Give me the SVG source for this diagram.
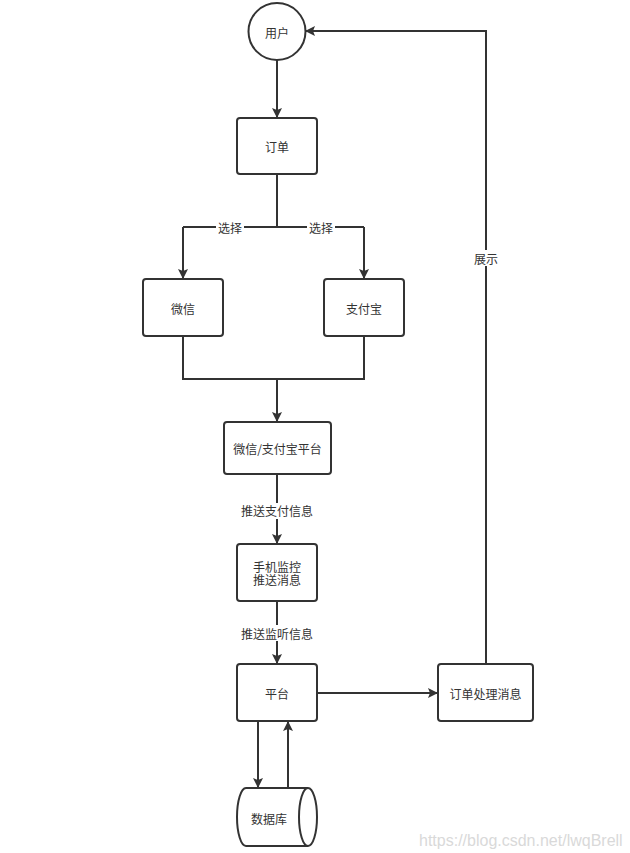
<svg xmlns="http://www.w3.org/2000/svg" width="630" height="853" viewBox="0 0 630 853">
<style>
.n{fill:#fff;stroke:#333;stroke-width:2}
.c{fill:none;stroke:#333;stroke-width:2}
text{font-family:"Noto Sans CJK SC","Liberation Sans",sans-serif;font-size:12px;fill:#333;text-anchor:middle;dominant-baseline:central}
.lb{fill:#fff;stroke:none}
.wm{font-family:"Liberation Sans",sans-serif;font-size:16px;fill:#d9d9d9;text-anchor:start}
</style>
<defs>
<marker id="a" viewBox="0 0 10 10" refX="9" refY="5" markerWidth="10" markerHeight="10" markerUnits="userSpaceOnUse" orient="auto">
<path d="M0,0 L10,5 L0,10 L2,5 Z" fill="#333"/>
</marker>
</defs>
<rect width="630" height="853" fill="#fff"/>
<g id="connectors">
<path class="c" d="M277,60 V117" marker-end="url(#a)"/>
<path class="c" d="M277,174 V227 M183,227 H364"/>
<path class="c" d="M183,227 V278" marker-end="url(#a)"/>
<path class="c" d="M364,227 V278" marker-end="url(#a)"/>
<path class="c" d="M183,336 V379 H364 V336"/>
<path class="c" d="M277,379 V421" marker-end="url(#a)"/>
<path class="c" d="M277,474 V543" marker-end="url(#a)"/>
<path class="c" d="M277,601 V663" marker-end="url(#a)"/>
<path class="c" d="M317,693 H437" marker-end="url(#a)"/>
<path class="c" d="M486,664 V31 H306" marker-end="url(#a)"/>
<path class="c" d="M258,721 V787" marker-end="url(#a)"/>
<path class="c" d="M288,788 V722" marker-end="url(#a)"/>
<rect class="lb" x="216" y="220" width="28" height="14"/>
<text x="230" y="227">选择</text>
<rect class="lb" x="307" y="220" width="28" height="14"/>
<text x="321" y="227">选择</text>
<rect class="lb" x="240" y="503" width="74" height="16"/>
<text x="277" y="510">推送支付信息</text>
<rect class="lb" x="240" y="625" width="74" height="16"/>
<text x="277" y="633">推送监听信息</text>
<rect class="lb" x="472" y="250" width="28" height="16"/>
<text x="486" y="258">展示</text>
</g>
<g id="user"><circle class="n" cx="277" cy="31.5" r="28.5"/><text x="277" y="32">用户</text></g>
<g id="order"><rect class="n" x="237" y="118" width="80" height="56" rx="3"/><text x="277" y="146">订单</text></g>
<g id="wechat"><rect class="n" x="143" y="279" width="80" height="57" rx="3"/><text x="183" y="308">微信</text></g>
<g id="alipay"><rect class="n" x="324" y="279" width="80" height="57" rx="3"/><text x="364" y="308">支付宝</text></g>
<g id="payplatform"><rect class="n" x="224" y="422" width="107" height="52" rx="3"/><text x="277.5" y="448">微信/支付宝平台</text></g>
<g id="phone"><rect class="n" x="237" y="544" width="80" height="57" rx="3"/><text x="277" y="566">手机监控<tspan x="277" dy="13">推送消息</tspan></text></g>
<g id="platform"><rect class="n" x="237" y="664" width="80" height="57" rx="3"/><text x="277" y="693">平台</text></g>
<g id="ordermsg"><rect class="n" x="438" y="664" width="95" height="57" rx="3"/><text x="485.5" y="693">订单处理消息</text></g>
<g id="db">
<path class="n" d="M246,788 H308 A9,29 0 0 1 308,846 H246 A9,29 0 0 1 246,788 Z"/>
<path class="c" d="M308,788 A9,29 0 0 0 308,846"/>
<text x="269" y="818">数据库</text>
</g>
<text class="wm" x="419" y="840">https://blog.csdn.net/lwqBrell</text>
</svg>
